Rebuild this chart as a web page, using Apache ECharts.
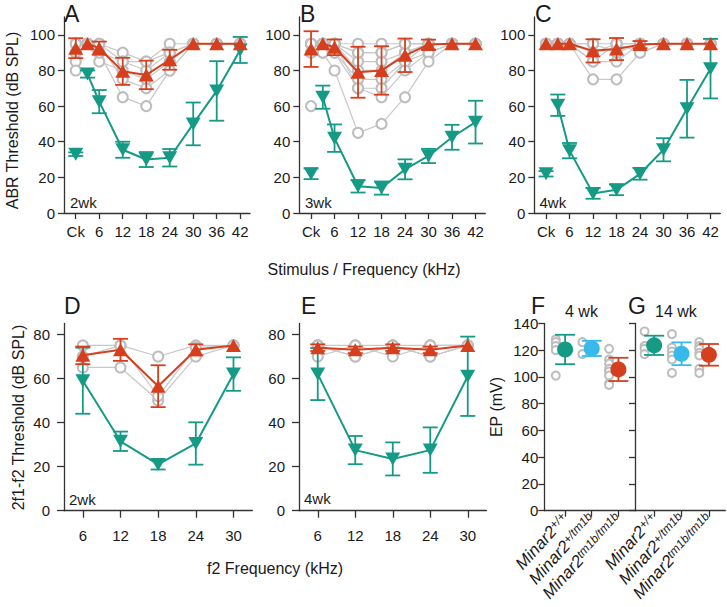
<!DOCTYPE html>
<html><head><meta charset="utf-8">
<script src="https://cdn.jsdelivr.net/npm/echarts@6/dist/echarts.min.js"></script>
<style>html,body{margin:0;padding:0;background:#fff}#c{width:727px;height:607px}</style>
</head><body><div id="c"></div>
<script>
// ---------------- data ----------------
const abrX = [0, 3, 6, 12, 18, 24, 30, 36, 42];          // 0 = click (Ck)
const abrTickValues = [0, 6, 12, 18, 24, 30, 36, 42];
const abrTickLabels = ['Ck', '6', '12', '18', '24', '30', '36', '42'];
const abrYTicks = [0, 20, 40, 60, 80, 100];
const dpX = [6, 12, 18, 24, 30];
const dpYTicks = [0, 20, 40, 60, 80];
const epX = [1, 2, 3];
const epYTicks = [0, 20, 40, 60, 80, 100, 120, 140];
const epGenotype = ['Minar2', 'Minar2', 'Minar2'];
const epSuper = ['+/+', '+/tm1b', 'tm1b/tm1b'];

// Panel A (2wk)
const aMut = [92.5, 95, 92.5, 79.5, 77.5, 86, 95, 95, 95];
const aMutErr = [5.6, 0, 3.7, 7.6, 8, 5.6, 0, 0, 0];
const aCtl = [33, 78, 62.5, 35.5, 30, 31, 50, 68.5, 91.5];
const aCtlErr = [1, 2, 6.5, 4.5, 4.2, 4.9, 12, 16.7, 7.3];
const aIndiv = [
  [90, 95, 95, 90, 85, 95, 95, 95, 95],
  [85, 95, 90, 85, 80, 90, 95, 95, 95],
  [80, 95, 85, 80, 75, 85, 95, 95, 95],
  [95, 95, 95, 75, 70, 80, 95, 95, 95],
  [95, 95, 90, 65, 60, 80, 95, 95, 95],
  [90, 95, 95, 85, 85, 90, 95, 95, 95]
];
// Panel B (3wk)
const bMut = [92, 95, 93, 79, 80, 88.5, 94.5, 95, 95];
const bMutErr = [10, 0, 4.4, 14.3, 13.6, 9.4, 2.8, 0, 0];
const bCtl = [22, 65, 42, 15, 14, 24.5, 32, 42.5, 51];
const bCtlErr = [3, 6.5, 7.7, 3.5, 3.7, 5.6, 4, 7, 12];
const bIndiv = [
  [95, 95, 95, 95, 95, 95, 95, 95, 95],
  [95, 95, 95, 90, 90, 95, 95, 95, 95],
  [95, 95, 95, 85, 85, 90, 95, 95, 95],
  [90, 95, 95, 80, 80, 90, 95, 95, 95],
  [95, 95, 90, 75, 75, 85, 90, 95, 95],
  [95, 95, 95, 70, 70, 85, 95, 95, 95],
  [90, 90, 90, 70, 65, 80, 90, 95, 95],
  [95, 95, 95, 90, 90, 95, 95, 95, 95],
  [60, 90, 80, 45, 50, 65, 85, 95, 95]
];
// Panel C (4wk)
const cMut = [95, 95, 95, 91, 92, 94.5, 95, 95, 95];
const cMutErr = [0, 0, 0, 6.5, 6.2, 2, 0, 0, 0];
const cCtl = [22, 60.5, 35, 11, 13, 22, 35.5, 58.5, 81];
const cCtlErr = [1.5, 6, 4.3, 3, 3, 3.3, 6.5, 16.2, 16.7];
const cIndiv = [
  [95, 95, 95, 95, 95, 95, 95, 95, 95],
  [95, 95, 95, 90, 95, 90, 95, 95, 95],
  [95, 95, 95, 85, 85, 95, 95, 95, 95],
  [95, 95, 95, 75, 75, 90, 95, 95, 95],
  [95, 95, 95, 95, 90, 95, 95, 95, 95],
  [95, 95, 95, 85, 95, 95, 95, 95, 95]
];
// Panel D (DPOAE 2wk)
const dMut = [70.5, 73, 56.5, 73, 75];
const dMutErr = [4, 5, 9.5, 2.5, 0];
const dCtl = [59, 31.5, 21, 30.5, 62];
const dCtlErr = [15, 4.4, 2.3, 9.6, 7.6];
const dIndiv = [
  [75, 75, 70, 75, 75],
  [65, 65, 50, 70, 75],
  [70, 75, 52, 74, 75]
];
// Panel E (DPOAE 4wk)
const eMut = [74, 73, 74, 73, 75];
const eMutErr = [1.5, 1.5, 1.5, 1.5, 0];
const eCtl = [62, 27.5, 23.5, 27.5, 61];
const eCtlErr = [11.8, 6.4, 7.5, 10.3, 18];
const eIndiv = [
  [75, 75, 75, 75, 75],
  [70, 75, 70, 75, 75],
  [75, 70, 75, 70, 75],
  [75, 70, 75, 70, 75]
];
// Panel F (EP 4 wk) and G (EP 14 wk): +/+, +/tm1b, tm1b/tm1b
const fMean = [120.5, 121.3, 105.6];
const fErr = [11, 5.7, 8.7];
const fIndWt = [128, 126, 123, 120, 101];
const fIndHet = [126, 117];
const fIndMut = [121, 113, 110, 106, 104, 101, 95, 94];
const gMean = [123.6, 117.3, 116.5];
const gErr = [7.2, 8.5, 8.1];
const gIndWt = [134, 123, 121, 117];
const gIndHet = [132, 122, 119, 116, 113, 103];
const gIndMut = [126, 123, 121, 118, 116, 106, 103];

// ---------------- style ----------------
const FONT = '"Liberation Sans", Arial, Helvetica, sans-serif';
const RED = '#d63f1d', TEAL = '#159a86', BLUE = '#37b9ec';
const GRAY = '#bdbdbd', GRAY_L = '#c8c8c8', AX = '#333', TXT = '#1a1a1a';
const EP_OFFSET = -0.35;
const TRI = [15, 13];

const grids = [
  {left: 64, top: 17, width: 186, height: 196},
  {left: 299.3, top: 17, width: 186, height: 196},
  {left: 534.3, top: 17, width: 186, height: 196},
  {left: 64, top: 323.4, width: 188.3, height: 187.3},
  {left: 299, top: 323.4, width: 187.5, height: 187.3},
  {left: 544.3, top: 323.4, width: 90.9, height: 187.3},
  {left: 635, top: 323.4, width: 90.3, height: 187.3}
];

const lineSt = {show: true, onZero: false, lineStyle: {color: AX, width: 1.3}};
const tickSt = (len, vals) => ({show: true, inside: false, length: len, customValues: vals, lineStyle: {color: AX, width: 1.3}});
const lab = (vals, margin, fmt) => ({show: true, customValues: vals, margin: margin, fontSize: 15, color: TXT, fontFamily: FONT, formatter: fmt, showMinLabel: true, showMaxLabel: true, hideOverlap: false});

const xAxes = [], yAxes = [];
for (let i = 0; i < 3; i++) {
  xAxes.push({type: 'value', gridIndex: i, min: -3, max: 44.5, axisLine: lineSt, axisTick: tickSt(6, abrTickValues),
    axisLabel: lab(abrTickValues, 11, v => abrTickLabels[abrTickValues.indexOf(v)]), splitLine: {show: false}});
  yAxes.push({type: 'value', gridIndex: i, min: 0, max: 110, axisLine: lineSt, axisTick: tickSt(6, abrYTicks),
    axisLabel: lab(abrYTicks, 9, v => String(v)), splitLine: {show: false}});
}
for (let i = 3; i < 5; i++) {
  xAxes.push({type: 'value', gridIndex: i, min: 3, max: 33, axisLine: lineSt, axisTick: tickSt(7, dpX),
    axisLabel: lab(dpX, 17, v => String(v)), splitLine: {show: false}});
  yAxes.push({type: 'value', gridIndex: i, min: 0, max: 85, axisLine: lineSt, axisTick: tickSt(7, dpYTicks),
    axisLabel: lab(dpYTicks, 14, v => String(v)), splitLine: {show: false}});
}
const epRich = {
  n: {fontSize: 17, fontStyle: 'italic', fontFamily: FONT, color: TXT, lineHeight: 17, verticalAlign: 'bottom'},
  s: {fontSize: 12, fontStyle: 'italic', fontFamily: FONT, color: TXT, lineHeight: 12, verticalAlign: 'top'}
};
const epFmt = v => { const k = epX.indexOf(v); return '{n|' + epGenotype[k] + '}{s|' + epSuper[k] + '}'; };
[[5, 0.22, 3.63], [6, 0.3, 3.6]].forEach(([i, mn, mx]) => {
  xAxes.push({type: 'value', gridIndex: i, min: mn, max: mx, axisLine: lineSt, axisTick: tickSt(6, epX),
    axisLabel: {show: true, customValues: epX, rotate: 48, margin: 5, formatter: epFmt, rich: epRich,
      showMinLabel: true, showMaxLabel: true, hideOverlap: false},
    splitLine: {show: false}});
  yAxes.push({type: 'value', gridIndex: i, min: 0, max: 140, axisLine: lineSt, axisTick: tickSt(6, epYTicks),
    axisLabel: Object.assign(lab(epYTicks, 6, v => String(v)), {show: i === 5}), splitLine: {show: false}});
});

// ---------------- series ----------------
const series = [];
function errSeries(gi, xs, means, errs, color, capHalf, z) {
  const data = [];
  xs.forEach((x, k) => { if (errs[k] > 0) data.push([x, means[k] - errs[k], means[k] + errs[k]]); });
  return {
    type: 'custom', xAxisIndex: gi, yAxisIndex: gi, z: z, silent: true, animation: false, data: data,
    encode: {x: 0, y: [1, 2]},
    renderItem: function (params, api) {
      const x = api.value(0), lo = api.value(1), hi = api.value(2);
      const a = api.coord([x, hi]), b = api.coord([x, lo]);
      const st = {stroke: color, lineWidth: 1.8, fill: null};
      return {type: 'group', children: [
        {type: 'line', shape: {x1: a[0], y1: a[1], x2: b[0], y2: b[1]}, style: st},
        {type: 'line', shape: {x1: a[0] - capHalf, y1: a[1], x2: a[0] + capHalf, y2: a[1]}, style: st},
        {type: 'line', shape: {x1: b[0] - capHalf, y1: b[1], x2: b[0] + capHalf, y2: b[1]}, style: st}
      ]};
    }
  };
}
function meanSeries(gi, pts, color, up, z, isLine) {
  return {
    type: isLine ? 'line' : 'scatter', xAxisIndex: gi, yAxisIndex: gi, z: z, silent: true, animation: false,
    data: pts, symbol: 'triangle', symbolSize: TRI, symbolRotate: up ? 0 : 180, showAllSymbol: true,
    itemStyle: {color: color, opacity: 1}, lineStyle: {color: color, width: 2}
  };
}
function addThreshold(gi, xs, isolatedFirst, indiv, mut, mutErr, ctl, ctlErr) {
  const start = isolatedFirst ? 1 : 0;
  indiv.forEach(row => {
    series.push({type: 'line', xAxisIndex: gi, yAxisIndex: gi, z: 1, silent: true, animation: false,
      data: xs.slice(start).map((x, k) => [x, row[k + start]]),
      symbol: 'emptyCircle', symbolSize: 10, showAllSymbol: true,
      itemStyle: {color: GRAY, borderWidth: 1.2, opacity: 1}, lineStyle: {color: GRAY_L, width: 1.2}});
  });
  if (isolatedFirst) {
    series.push({type: 'scatter', xAxisIndex: gi, yAxisIndex: gi, z: 1, silent: true, animation: false,
      data: indiv.map(r => [xs[0], r[0]]), symbol: 'emptyCircle', symbolSize: 10,
      itemStyle: {color: GRAY, borderWidth: 1.2, opacity: 1}});
  }
  // control (teal, down triangles)
  series.push(errSeries(gi, xs, ctl, ctlErr, TEAL, 7.5, 3));
  series.push(meanSeries(gi, xs.slice(start).map((x, k) => [x, ctl[k + start]]), TEAL, false, 4, true));
  if (isolatedFirst) series.push(meanSeries(gi, [[xs[0], ctl[0]]], TEAL, false, 4, false));
  // mutant (red, up triangles)
  series.push(errSeries(gi, xs, mut, mutErr, RED, 7.5, 5));
  series.push(meanSeries(gi, xs.slice(start).map((x, k) => [x, mut[k + start]]), RED, true, 6, true));
  if (isolatedFirst) series.push(meanSeries(gi, [[xs[0], mut[0]]], RED, true, 6, false));
}
addThreshold(0, abrX, true, aIndiv, aMut, aMutErr, aCtl, aCtlErr);
addThreshold(1, abrX, true, bIndiv, bMut, bMutErr, bCtl, bCtlErr);
addThreshold(2, abrX, true, cIndiv, cMut, cMutErr, cCtl, cCtlErr);
addThreshold(3, dpX, false, dIndiv, dMut, dMutErr, dCtl, dCtlErr);
addThreshold(4, dpX, false, eIndiv, eMut, eMutErr, eCtl, eCtlErr);

function addEp(gi, indivs, means, errs) {
  const cols = [TEAL, BLUE, RED];
  indivs.forEach((vals, k) => {
    series.push({type: 'scatter', xAxisIndex: gi, yAxisIndex: gi, z: 1, silent: true, animation: false,
      data: vals.map(v => [epX[k] + EP_OFFSET, v]), symbol: 'emptyCircle', symbolSize: 8,
      itemStyle: {color: GRAY, borderWidth: 1.2, opacity: 1}});
  });
  epX.forEach((x, k) => {
    series.push(errSeries(gi, [x], [means[k]], [errs[k]], cols[k], 10, 3));
    series.push({type: 'scatter', xAxisIndex: gi, yAxisIndex: gi, z: 4, silent: true, animation: false,
      data: [[x, means[k]]], symbol: 'circle', symbolSize: 16, itemStyle: {color: cols[k], opacity: 1}});
  });
}
addEp(5, [fIndWt, fIndHet, fIndMut], fMean, fErr);
addEp(6, [gIndWt, gIndHet, gIndMut], gMean, gErr);

// ---------------- texts ----------------
function txt(t, x, y, size, opts) {
  opts = opts || {};
  return {type: 'text', x: x, y: y, rotation: opts.rot || 0, silent: true, z: 10,
    style: {text: t, font: size + 'px ' + FONT, fill: TXT,
      align: opts.align || 'left', textAlign: opts.align || 'left',
      verticalAlign: 'middle', textVerticalAlign: 'middle'}};
}
const graphics = [
  txt('A', 64, 13.5, 23), txt('B', 300, 13.5, 23), txt('C', 535, 13.5, 23),
  txt('D', 64, 306, 23), txt('E', 301, 306, 23), txt('F', 531, 306, 23), txt('G', 628, 306, 23),
  txt('4 wk', 565, 311, 16), txt('14 wk', 655, 311, 16),
  txt('2wk', 70, 202, 15), txt('3wk', 305, 202, 15), txt('4wk', 539.5, 202, 15),
  txt('2wk', 69, 499, 15), txt('4wk', 304, 498, 15),
  txt('ABR Threshold (dB SPL)', 12, 120.5, 16, {rot: Math.PI / 2, align: 'center'}),
  txt('2f1-f2 Threshold (dB SPL)', 18.5, 417.5, 16, {rot: Math.PI / 2, align: 'center'}),
  txt('EP (mV)', 496, 407, 16, {rot: Math.PI / 2, align: 'center'}),
  txt('Stimulus / Frequency (kHz)', 364, 269, 16, {align: 'center'}),
  txt('f2 Frequency (kHz)', 275, 568, 16, {align: 'center'})
];

const chart = echarts.init(document.getElementById('c'), null, {renderer: 'svg', width: 727, height: 607});
chart.setOption({
  animation: false,
  backgroundColor: '#fff',
  textStyle: {fontFamily: FONT},
  grid: grids,
  xAxis: xAxes,
  yAxis: yAxes,
  series: series,
  graphic: graphics
});
</script>
</body></html>
